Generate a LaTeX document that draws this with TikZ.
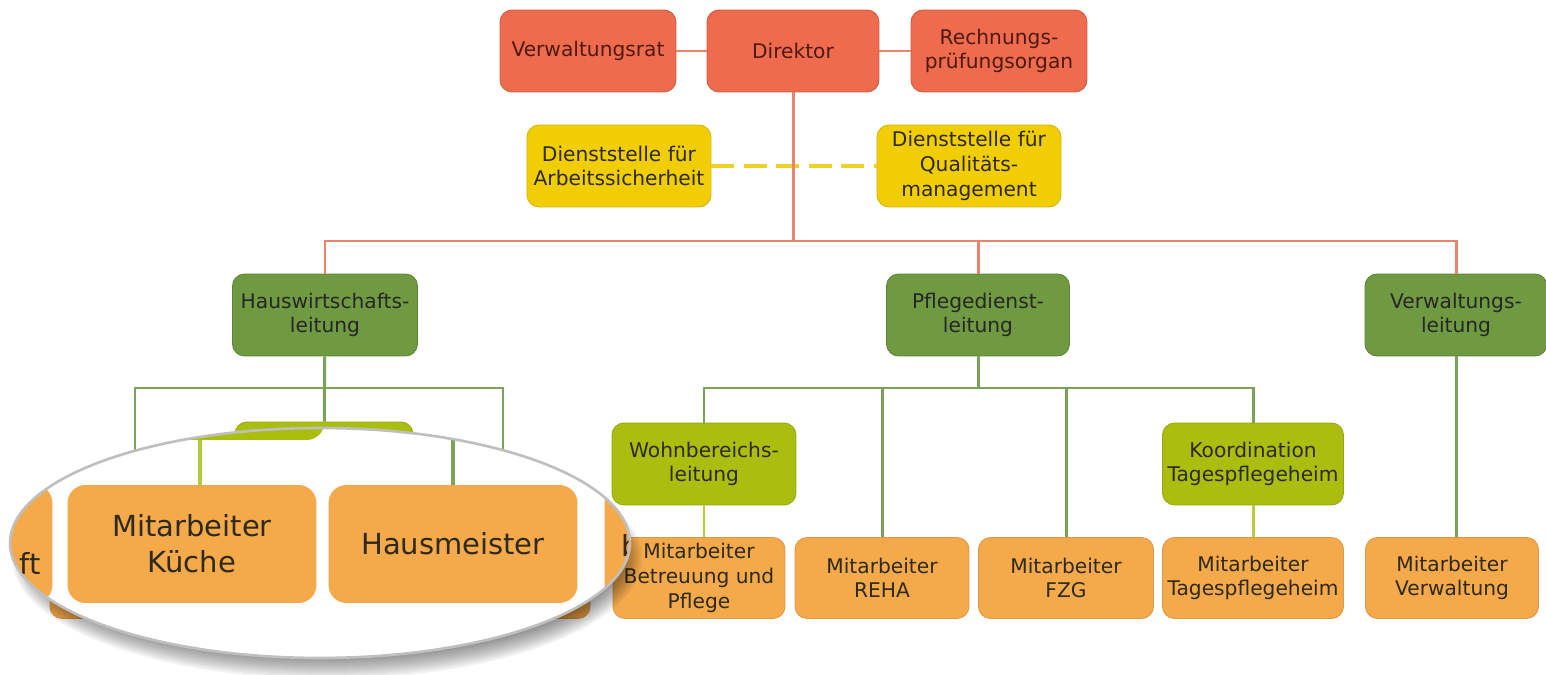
\documentclass[tikz,border=0pt]{standalone}
\usepackage{fontspec}
\setmainfont{DejaVu Sans}

\definecolor{rot}{HTML}{EE6B4E}
\definecolor{rotlinie}{HTML}{E9836C}
\definecolor{rottext}{HTML}{4E1A10}
\definecolor{gelb}{HTML}{F1CD04}
\definecolor{gelblinie}{HTML}{EFD028}
\definecolor{dgruen}{HTML}{6F9A41}
\definecolor{gruenlinie}{HTML}{7BA358}
\definecolor{hgruen}{HTML}{A9BE0E}
\definecolor{hgruenlinie}{HTML}{B8CB3C}
\definecolor{orng}{HTML}{F4A94B}
\definecolor{dunkel}{HTML}{2E2A18}

\begin{document}
\begin{tikzpicture}[x=0.02cm, y=-0.02cm,
		every node/.style={rounded corners=0.24cm, align=center, inner sep=1pt,
			minimum height=1.64cm, text=dunkel, font=\fontsize{11.5}{14}\selectfont},
		rotbox/.style={fill=rot, draw=rot!85!black, line width=0.5pt, text=rottext},
		gelbbox/.style={fill=gelb, draw=gelb!88!black, line width=0.5pt},
		dgbox/.style={fill=dgruen, draw=dgruen!85!black, line width=0.5pt, text=black!85},
		hgbox/.style={fill=hgruen, draw=hgruen!88!black, line width=0.5pt},
		orbox/.style={fill=orng, draw=orng!90!black, line width=0.5pt, minimum height=1.62cm},
		lupe/.style={fill=orng, rounded corners=0.36cm, minimum width=4.98cm,
			minimum height=2.36cm, font=\fontsize{16.5}{20.5}\selectfont},
		rline/.style={draw=rotlinie, line width=1.7pt},
		gline/.style={draw=gruenlinie, line width=1.7pt},
		hgline/.style={draw=hgruenlinie, line width=1.7pt},
		yline/.style={draw=gelblinie, line width=2.2pt, dash pattern=on 13pt off 5.5pt},
		lensrand/.style={draw=black!25, line width=1.5pt}]
	\useasboundingbox (0,0) rectangle (1546,675);

	% Leitung
	\node[rotbox, minimum width=3.52cm] (vrat) at (588,51) {Verwaltungsrat};
	\node[rotbox, minimum width=3.44cm] (dir) at (793,51) {Direktor};
	\node[rotbox, minimum width=3.52cm] (rpo) at (999,51) {Rechnungs-\\prüfungsorgan};
	\node[gelbbox, minimum width=3.68cm] (asi) at (619,166) {Dienststelle für\\Arbeitssicherheit};
	\node[gelbbox, minimum width=3.68cm] (qm) at (969,166) {Dienststelle für\\Qualitäts-\\management};

	\node[dgbox, minimum width=3.7cm] (hwl) at (325,315) {Hauswirtschafts-\\leitung};
	\node[dgbox, minimum width=3.66cm] (pdl) at (978,315) {Pflegedienst-\\leitung};
	\node[dgbox, minimum width=3.64cm] (vwl) at (1456,315) {Verwaltungs-\\leitung};

	\node[hgbox, minimum width=3.56cm] (kue) at (324,463) {};
	\node[hgbox, minimum width=3.68cm] (wbl) at (704,464) {Wohnbereichs-\\leitung};
	\node[hgbox, minimum width=3.62cm] (kdt) at (1253,464) {Koordination\\Tagespflegeheim};

	\node[orbox, minimum width=3.6cm] (ohl) at (140,578) {};
	\node[orbox, minimum width=3.6cm] (ohr) at (500,578) {};
	\node[orbox, minimum width=3.44cm] (mbp) at (699,578) {Mitarbeiter\\Betreuung und\\Pflege};
	\node[orbox, minimum width=3.48cm] (reha) at (882,578) {Mitarbeiter\\REHA};
	\node[orbox, minimum width=3.5cm] (fzg) at (1066,578) {Mitarbeiter\\FZG};
	\node[orbox, minimum width=3.62cm] (mtp) at (1253,578) {Mitarbeiter\\Tagespflegeheim};
	\node[orbox, minimum width=3.46cm] (mvw) at (1452,578) {Mitarbeiter\\Verwaltung};

	\coordinate (rbus) at (793,241);
	\coordinate (hbus) at (324,388);
	\coordinate (pbus) at (978,388);

	\path[yline] (asi) -- (qm);
	\path[rline] (vrat) -- (dir);
	\path[rline] (dir) -- (rpo);
	\path[rline] (dir) -- (rbus);
	\path[rline] (rbus) -| (hwl);
	\path[rline] (rbus) -| (pdl);
	\path[rline] (rbus) -| (vwl);

	\path[gline] (hwl) -- (kue);
	\path[gline] (hbus) -| (135,537) coordinate (hl);
	\path[gline] (hbus) -| (503,537) coordinate (hr);
	\path[gline] (pdl) -- (pbus);
	\path[gline] (pbus) -| (wbl);
	\path[gline] (pbus) -| (reha);
	\path[gline] (pbus) -| (fzg);
	\path[gline] (pbus) -| (kdt);
	\path[hgline] (wbl) -- (wbl |- mbp.north);
	\path[hgline] (kdt) -- (mtp);
	\path[gline] (vwl) -- (vwl |- mvw.north);

	% Lupe
	\foreach \d in {0,...,9}
		\fill[black, opacity=0.05] (327,558) ellipse [x radius={6.3cm-\d*0.45mm}, y radius={2.42cm-\d*0.45mm}];
	\fill[white] (320,543) ellipse [x radius=6.2cm, y radius=2.3cm];
	\begin{scope}
		\clip (320,543) ellipse [x radius=6.2cm, y radius=2.3cm];
		\node[lupe, fill=hgruen] (lhg) at (200,381) {};
		\node[lupe] (lli) at (-72,544) {};
		\node[lupe] (lkue) at (192,544) {Mitarbeiter\\Küche};
		\node[lupe] (lhm) at (453,544) {Hausmeister};
		\node[lupe] (lre) at (729,544) {};
		\node[anchor=east, minimum height=0pt, font=\fontsize{16.5}{20.5}\selectfont] (lft) at (43,563) {ft};
		\node[anchor=west, minimum height=0pt, font=\fontsize{16.5}{20.5}\selectfont] (lb) at (619,546) {b};
		\path[hgline, line width=2.4pt] (lhg) -- (lhg |- lkue.north);
		\path[gline, line width=2.4pt] (lhm) -- ++(0,-120);
	\end{scope}
	\draw[lensrand] (320,543) ellipse [x radius=6.2cm, y radius=2.3cm];
\end{tikzpicture}
\end{document}
